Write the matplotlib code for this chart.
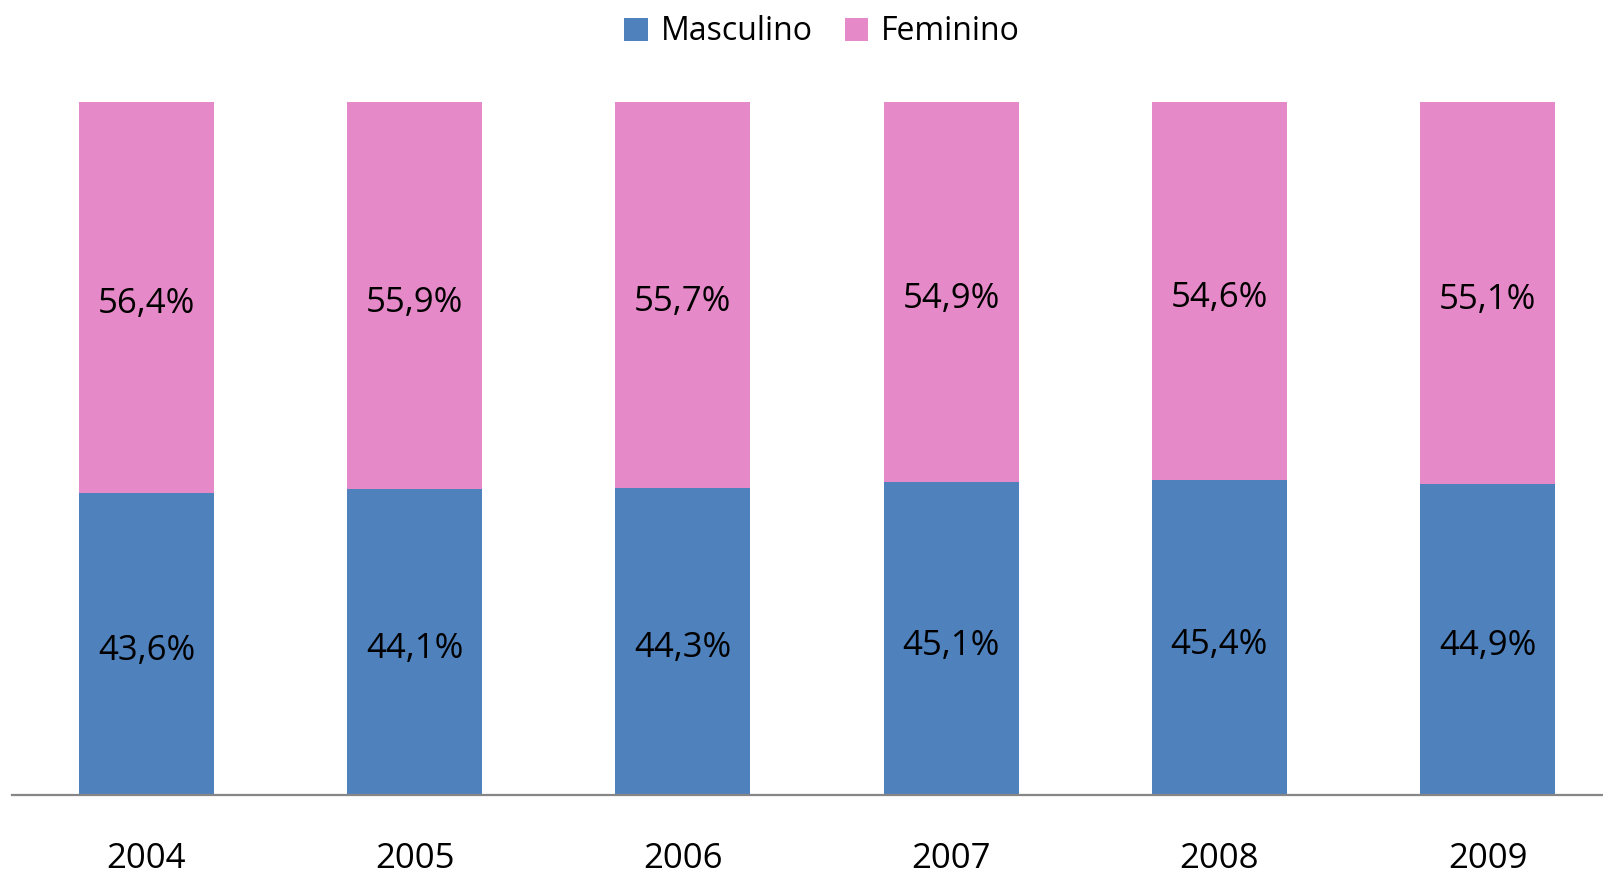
import matplotlib.pyplot as plt
import numpy as np

plt.rcParams['font.family'] = ['Open Sans', 'DejaVu Sans']

# Data
anos = ['2004', '2005', '2006', '2007', '2008', '2009']
masculino = [43.6, 44.1, 44.3, 45.1, 45.4, 44.9]
feminino = [56.4, 55.9, 55.7, 54.9, 54.6, 55.1]

COR_MASC = '#4F81BD'
COR_FEM = '#E689C8'

W, H = 1603, 875
fig = plt.figure(figsize=(W / 100, H / 100), dpi=100)
# axes spans a bit beyond the right edge, like the original
ax = fig.add_axes([12.4 / W, 1 - 795 / H, 1609.2 / W, (795 - 102) / H])

x = np.arange(len(anos))
larg = 0.503
b1 = ax.bar(x, masculino, larg, color=COR_MASC, label='Masculino')
b2 = ax.bar(x, feminino, larg, bottom=masculino, color=COR_FEM, label='Feminino')

def rotulo(v):
    return f'{v:.1f}%'.replace('.', ',')

for i in range(len(anos)):
    ax.annotate(rotulo(masculino[i]), (x[i], masculino[i] / 2), xytext=(0, -5),
                textcoords='offset points', ha='center', va='center', fontsize=25)
    ax.annotate(rotulo(feminino[i]), (x[i], masculino[i] + feminino[i] / 2), xytext=(0, -5),
                textcoords='offset points', ha='center', va='center', fontsize=25)

ax.set_xlim(-0.5, len(anos) - 0.5)
ax.set_ylim(0, 100)
ax.set_xticks(x)
ax.set_xticklabels(anos, fontsize=25)
ax.tick_params(axis='x', length=0, pad=34)
ax.set_yticks([])
for s in ['top', 'right', 'left']:
    ax.spines[s].set_visible(False)
ax.spines['bottom'].set_color('#868686')
ax.spines['bottom'].set_linewidth(1.6)

fig.legend(handles=[b1, b2], loc='center', bbox_to_anchor=(822 / W, 1 - 32 / H),
           ncol=2, frameon=False, fontsize=23, handlelength=0.75, handleheight=0.75,
           handletextpad=0.4, columnspacing=1.0)

fig.savefig('out.png', dpi=100)
